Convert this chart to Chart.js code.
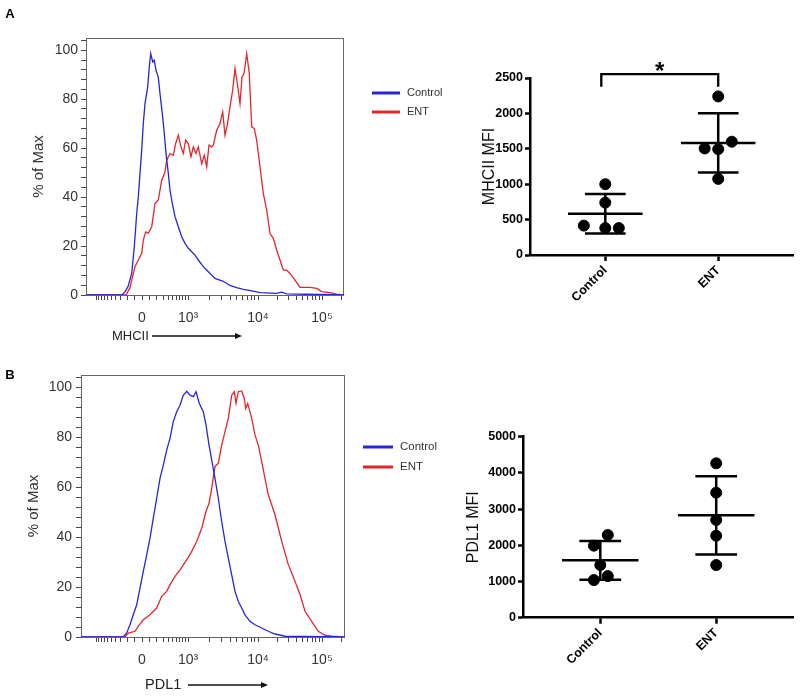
<!DOCTYPE html>
<html>
<head>
<meta charset="utf-8">
<script src="https://cdn.jsdelivr.net/npm/chart.js@4.4.1/dist/chart.umd.min.js"></script>
<style>
  html, body { margin: 0; padding: 0; background: #fff; }
  #wrap { position: relative; width: 800px; height: 697px; overflow: hidden; }
  canvas { position: absolute; }
</style>
</head>
<body>
<div id="wrap">
  <canvas id="histA" width="460" height="350" style="left:0;top:0"></canvas>
  <canvas id="histB" width="460" height="337" style="left:0;top:360px"></canvas>
  <canvas id="dotA" width="440" height="330" style="left:360px;top:40px"></canvas>
  <canvas id="dotB" width="440" height="297" style="left:360px;top:400px"></canvas>
</div>
<script>
// ---- data ----
const groups = ['Control', 'ENT'];

// flow histograms: x = display channel (biexponential axis), y = % of Max
const mhcCtrlX = [0, 36, 39, 42, 45.7, 48.3, 50.7, 52.3, 54, 55.7, 57.3, 59, 61.7, 63.3, 64.7, 66.7, 68.3, 70, 72.3, 74, 76.3, 78.3, 80, 82.3, 84, 86.3, 89, 92.3, 95.7, 99, 102.3, 105.7, 109, 112.3, 117.3, 122.3, 129, 137.3, 144, 150.7, 157.3, 167.3, 174, 190.7, 195.7, 200.7, 220, 258];
const mhcCtrlY = [0, 0, 1.4, 3.4, 8.8, 19.7, 33.3, 40.1, 49.7, 59.2, 70.1, 78.2, 85, 93.2, 98.6, 95.2, 95.9, 91.8, 89, 82.3, 74.1, 66, 57.8, 49.7, 42.8, 37.4, 32, 27.9, 23.8, 21.1, 19.1, 17.7, 16.3, 14.3, 11.6, 9.5, 6.8, 5.6, 3.9, 3, 2.3, 1.6, 1, 0.7, 1.2, 0.5, 0.3, 0];
const mhcEntX = [0, 40, 44, 45.7, 49, 52.3, 55.7, 57.3, 59.7, 62.3, 65.7, 69, 72.3, 75.7, 79, 80.7, 84, 87.3, 89.7, 92.3, 95, 97.3, 99.7, 102.3, 105, 107.3, 110, 112.3, 115.7, 118.3, 120.7, 123, 125.7, 127.3, 130.7, 134, 136.7, 139, 141.3, 144, 146.7, 149, 151.3, 154, 156, 158, 160.7, 163.3, 165.7, 168.3, 170.7, 174, 177.3, 180.7, 184, 187.3, 190.7, 194, 197.3, 200.7, 204, 209, 214, 224, 230.7, 235.7, 244, 250.7, 258];
const mhcEntY = [0, 0, 3, 6.1, 11.6, 14.3, 17, 22.4, 25.8, 25.2, 27.9, 37.4, 38.8, 46.9, 50.3, 55.1, 57.8, 57.1, 61.9, 65.3, 60.5, 57.8, 63.3, 61.9, 56.5, 60.5, 57.8, 60.5, 53.7, 57.1, 52.4, 61.2, 60.5, 61.2, 67.3, 70.1, 74.8, 65.3, 69.4, 76.9, 83.7, 92.5, 86.4, 78.2, 89.1, 90.5, 98.6, 90.5, 68.7, 68, 63.3, 52.4, 41.5, 34.7, 25.2, 23.1, 18.4, 14.3, 10.2, 10.2, 8.8, 6.1, 3.1, 3.1, 2.7, 1.4, 1, 0.4, 0];

const pdlCtrlX = [-5, 37, 40.7, 44, 47.3, 50.7, 54, 57.3, 60.7, 64, 67.3, 70.7, 74, 77.3, 80.7, 84, 87.3, 90.7, 94, 97.3, 100.7, 104, 107.3, 110, 113.3, 117.3, 120, 123, 126, 129, 132.3, 135.7, 139, 142.3, 145.7, 149, 152.3, 155.7, 159, 164, 169, 175.7, 182.3, 189, 199, 259];
const pdlCtrlY = [0, 0, 1.6, 4.9, 8.9, 12.9, 19.6, 26.3, 32.9, 39.6, 47.6, 55.6, 63.6, 68.9, 74.9, 79.6, 86.3, 90.3, 92.9, 96.9, 98.5, 96.9, 96.3, 98.3, 93.6, 90.3, 85, 77, 70.3, 63.6, 55.6, 46.3, 38.3, 31.6, 24.9, 18.3, 14.3, 11.6, 8.9, 6.3, 4.9, 3.6, 2.3, 1.2, 0.3, 0];
const pdlEntX = [-5, 39, 42.3, 49, 52.3, 57.3, 64, 70.7, 75.7, 80.7, 84, 89, 94, 100.7, 105.7, 110.7, 115.7, 120, 123, 125.7, 129, 132.3, 135.7, 139, 142.3, 145.7, 148.3, 150, 152.3, 155.7, 158.3, 159.7, 161.7, 165.7, 169, 172.3, 175.7, 179, 182.3, 189, 195.7, 202.3, 209, 214, 219, 225.7, 232.3, 239, 245.7, 259];
const pdlEntY = [0, 0, 1.6, 2.3, 4.3, 6.9, 8.9, 11.6, 16.3, 18.3, 20.9, 24.3, 26.9, 30.9, 34.3, 38.3, 43.6, 50.3, 53.5, 59.6, 68.3, 69.6, 76.9, 82.3, 87.6, 96.9, 98.3, 93.6, 98.3, 98.6, 95.6, 91.6, 93.6, 87.6, 81, 76.9, 70.3, 63.6, 57, 49, 38.3, 29, 22.3, 17, 10.3, 6.3, 2.3, 0.7, 0.3, 0];

const decadeValues = [0, 1e3, 1e4, 1e5];
const decadeLabels = ['0', '10³', '10⁴', '10⁵'];
const pctLabels = [0, 20, 40, 60, 80, 100];

// MFI dot plots (x jitter in category units, as drawn)
const mhcMfiCtrl = [1000, 740, 415, 380, 380];
const mhcMfiEnt = [2240, 1505, 1495, 1600, 1075];
const mhcJitCtrl = [0, 0, -0.19, 0, 0.12];
const mhcJitEnt = [0, -0.12, 0, 0.12, 0];
const pdlMfiCtrl = [1990, 2285, 1455, 1040, 1150];
const pdlMfiEnt = [4265, 3455, 2700, 2265, 1455];
const pdlJitCtrl = [-0.055, 0.065, 0, -0.055, 0.065];
const pdlJitEnt = [0, 0, 0, 0, 0];
const mhcSig = { top: 2555, drop: 180, label: '*' };

// ---- helpers ----
const FONT = '"Liberation Sans", Arial, Helvetica, sans-serif';
Chart.defaults.font.family = FONT;
Chart.defaults.color = '#222';
const BLUE = '#2626d6', RED = '#e6252b';

const zip = (xs, ys) => xs.map((x, i) => ({ x: x, y: ys[i] }));
const mean = a => a.reduce((s, v) => s + v, 0) / a.length;
const sd = a => { const m = mean(a); return Math.sqrt(a.reduce((s, v) => s + (v - m) * (v - m), 0) / (a.length - 1)); };

// biexponential-ish display transform used for the tick marks
function chan(v) {
  if (Math.abs(v) <= 1000) return 56 + 46 * Math.asinh(v / 300) / Math.asinh(1000 / 300);
  if (v <= 1e4) return 102 + 70 * Math.log10(v / 1e3);
  return 172 + 64 * Math.log10(v / 1e4);
}
function flowTickValues() {
  const vals = decadeValues.slice();
  for (let k = 1; k <= 10; k++) vals.push(-k * 100);
  for (let k = 1; k <= 9; k++) vals.push(k * 100);
  for (let k = 2; k <= 9; k++) { vals.push(k * 1e3); vals.push(k * 1e4); }
  vals.push(2e5);
  return vals;
}

const flowDecor = {
  id: 'flowDecor',
  beforeDatasetsDraw(chart, args, o) {
    const { ctx, chartArea: a } = chart;
    ctx.save();
    ctx.strokeStyle = '#666';
    ctx.lineWidth = 1;
    ctx.strokeRect(a.left + 0.5, a.top + 0.5, a.width - 1, a.height);
    ctx.restore();
  },
  afterDraw(chart, args, o) {
    const { ctx, chartArea: a } = chart;
    ctx.save();
    // axis name + arrow
    const y = a.bottom + o.nameY;
    ctx.fillStyle = '#222';
    ctx.strokeStyle = '#111';
    ctx.font = o.nameSize + 'px ' + FONT;
    ctx.textAlign = 'left';
    ctx.textBaseline = 'middle';
    ctx.fillText(o.name, a.left + o.nameX, y);
    const x1 = a.left + o.arrowFrom, x2 = a.left + o.arrowTo;
    ctx.lineWidth = 1.5;
    ctx.beginPath(); ctx.moveTo(x1, y); ctx.lineTo(x2 - 5, y); ctx.stroke();
    ctx.fillStyle = '#111';
    ctx.beginPath(); ctx.moveTo(x2, y); ctx.lineTo(x2 - 7, y - 3); ctx.lineTo(x2 - 7, y + 3); ctx.closePath(); ctx.fill();
    // legend
    ctx.font = o.legendSize + 'px ' + FONT;
    ctx.lineWidth = 3;
    chart.data.datasets.forEach((d, i) => {
      const ly = a.top + o.legendY + i * o.legendGap;
      ctx.strokeStyle = d.borderColor;
      ctx.beginPath(); ctx.moveTo(a.right + o.legendX, ly); ctx.lineTo(a.right + o.legendX + o.legendLen, ly); ctx.stroke();
      ctx.fillStyle = '#333';
      ctx.fillText(d.label, a.right + o.legendX + o.legendLen + 7, ly);
    });
    // panel tag
    ctx.fillStyle = '#000';
    ctx.font = 'bold 13px ' + FONT;
    ctx.textAlign = 'center';
    ctx.fillText(o.tag, o.tagX, o.tagY);
    ctx.restore();
  }
};

function histogram(id, ctrlX, ctrlY, entX, entY, o) {
  const majors = decadeValues.map(chan);
  const ticks = flowTickValues().map(chan).filter(v => v > o.xmin + 1 && v < o.xmax - 1);
  return new Chart(document.getElementById(id), {
    type: 'line',
    data: {
      datasets: [
        { label: groups[0], data: zip(ctrlX, ctrlY), borderColor: BLUE },
        { label: groups[1], data: zip(entX, entY), borderColor: RED }
      ]
    },
    options: {
      responsive: false,
      animation: false,
      layout: { padding: { top: o.top, right: o.right, left: 0, bottom: 0 } },
      elements: { point: { radius: 0 }, line: { borderWidth: 1.3, tension: 0 } },
      plugins: { legend: { display: false }, tooltip: { enabled: false }, flowDecor: o.decor },
      scales: {
        x: {
          type: 'linear', min: o.xmin, max: o.xmax,
          afterFit: s => { s.height = o.xh; },
          afterBuildTicks: s => { s.ticks = ticks.map(v => ({ value: v })); },
          ticks: {
            autoSkip: false, maxRotation: 0, padding: 10, color: '#333',
            font: { size: 14 },
            callback: v => { const i = majors.findIndex(m => Math.abs(m - v) < 1e-6); return i >= 0 ? decadeLabels[i] : ''; }
          },
          grid: { drawOnChartArea: false, tickLength: 5, tickColor: '#444' },
          border: { display: false }
        },
        y: {
          min: 0, max: 105,
          afterFit: s => { s.width = o.yw; },
          afterBuildTicks: s => { const t = []; for (let v = 0; v <= 104; v += 4) t.push({ value: v }); s.ticks = t; },
          ticks: {
            autoSkip: false, padding: o.ypad, color: '#333', font: { size: 14 },
            callback: v => pctLabels.includes(v) ? String(v) : ''
          },
          grid: { drawOnChartArea: false, tickLength: 5, tickColor: '#444' },
          border: { display: false },
          title: { display: true, text: '% of Max', color: '#333', font: { size: 15 }, padding: { top: o.titlePad, bottom: 0 } }
        }
      }
    },
    plugins: [flowDecor]
  });
}

const sigBracket = {
  id: 'sigBracket',
  afterDatasetsDraw(chart, args, o) {
    if (!o.sig) return;
    const { ctx } = chart;
    const xs = chart.scales.x, ys = chart.scales.y;
    const x1 = xs.getPixelForValue(1) - 4, x2 = xs.getPixelForValue(2);
    const yt = ys.getPixelForValue(o.sig.top), yb = ys.getPixelForValue(o.sig.top - o.sig.drop);
    ctx.save();
    ctx.strokeStyle = '#000';
    ctx.lineWidth = 2.3;
    ctx.beginPath(); ctx.moveTo(x1, yb); ctx.lineTo(x1, yt); ctx.lineTo(x2, yt); ctx.lineTo(x2, yb); ctx.stroke();
    ctx.fillStyle = '#000';
    ctx.font = 'bold 24px ' + FONT;
    ctx.textAlign = 'center';
    ctx.textBaseline = 'alphabetic';
    ctx.fillText(o.sig.label, (x1 + x2) / 2, yt + 5);
    ctx.restore();
  }
};

function statLines(pos, vals) {
  const m = mean(vals), s = sd(vals);
  return [
    { x: pos - 0.33, y: m }, { x: pos + 0.33, y: m }, { x: pos, y: null },
    { x: pos, y: m - s }, { x: pos, y: m + s }, { x: pos, y: null },
    { x: pos - 0.18, y: m + s }, { x: pos + 0.18, y: m + s }, { x: pos, y: null },
    { x: pos - 0.18, y: m - s }, { x: pos + 0.18, y: m - s }
  ];
}

function dotPlot(id, series, jitters, o) {
  const datasets = [];
  series.forEach((vals, g) => {
    const pos = g + 1;
    datasets.push({
      type: 'scatter', data: vals.map((v, i) => ({ x: pos + jitters[g][i], y: v })),
      backgroundColor: '#000', borderColor: '#000', pointRadius: 5.5, pointHoverRadius: 5.5, clip: false
    });
    datasets.push({
      type: 'line', data: statLines(pos, vals), showLine: true, spanGaps: false,
      borderColor: '#000', borderWidth: 2.5, pointRadius: 0, borderCapStyle: 'butt', clip: false
    });
  });
  return new Chart(document.getElementById(id), {
    type: 'scatter',
    data: { datasets: datasets },
    options: {
      responsive: false,
      animation: false,
      layout: { padding: { top: o.top, right: 5, left: 0, bottom: 0 } },
      plugins: { legend: { display: false }, tooltip: { enabled: false }, sigBracket: { sig: o.sig } },
      scales: {
        x: {
          type: 'linear', min: 1 / 3, max: 8 / 3,
          afterFit: s => { s.height = o.xh; },
          afterBuildTicks: s => { s.ticks = groups.map((g, i) => ({ value: i + 1 })); },
          ticks: {
            autoSkip: false, minRotation: 45, maxRotation: 45, padding: 2, color: '#000',
            font: { size: 12.5, weight: 'bold' },
            callback: v => groups[Math.round(v) - 1]
          },
          grid: { drawOnChartArea: false, tickLength: 6, tickWidth: 2.5, tickColor: '#000' },
          border: { width: 2.5, color: '#000' }
        },
        y: {
          min: 0, max: o.ymax,
          afterFit: s => { s.width = o.yw; },
          ticks: { stepSize: o.step, padding: 2, color: '#000', font: { size: 12.5, weight: 'bold' }, callback: v => String(v) },
          grid: { drawOnChartArea: false, tickLength: 5, tickWidth: 2.5, tickColor: '#000' },
          border: { width: 2.5, color: '#000' },
          title: { display: true, text: o.title, color: '#111', font: { size: 16 }, padding: { top: o.titlePad, bottom: 0 } }
        }
      }
    },
    plugins: [sigBracket]
  });
}

// ---- charts ----
histogram('histA', mhcCtrlX, mhcCtrlY, mhcEntX, mhcEntY, {
  xmin: 0, xmax: 258, top: 38, right: 116, xh: 55, yw: 86, ypad: 3, titlePad: 29.5,
  decor: { name: 'MHCII', nameSize: 13, nameX: 26, nameY: 41, arrowFrom: 66, arrowTo: 156,
           legendX: 28, legendY: 55, legendGap: 19, legendLen: 28, legendSize: 11,
           tag: 'A', tagX: 10, tagY: 14 }
});
histogram('histB', pdlCtrlX, pdlCtrlY, pdlEntX, pdlEntY, {
  xmin: -5, xmax: 259, top: 15, right: 115, xh: 60, yw: 81, ypad: 4, titlePad: 24.5,
  decor: { name: 'PDL1', nameSize: 14.5, nameX: 64, nameY: 48, arrowFrom: 107, arrowTo: 187,
           legendX: 18, legendY: 72, legendGap: 20, legendLen: 30, legendSize: 11.5,
           tag: 'B', tagX: 10, tagY: 15 }
});
dotPlot('dotA', [mhcMfiCtrl, mhcMfiEnt], [mhcJitCtrl, mhcJitEnt], {
  top: 38, xh: 115, yw: 170, ymax: 2500, step: 500, title: 'MHCII MFI', titlePad: 120.4, sig: mhcSig
});
dotPlot('dotB', [pdlMfiCtrl, pdlMfiEnt], [pdlJitCtrl, pdlJitEnt], {
  top: 36.7, xh: 79.3, yw: 163, ymax: 5000, step: 1000, title: 'PDL1 MFI', titlePad: 103.7, sig: null
});
</script>
</body>
</html>
